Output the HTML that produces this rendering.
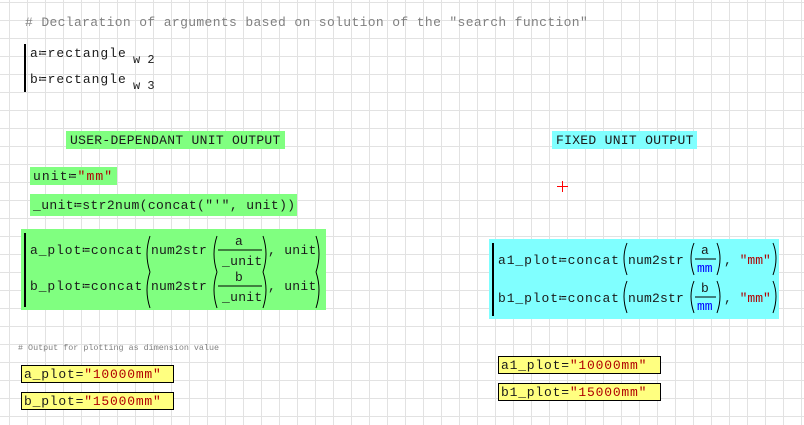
<!DOCTYPE html>
<html><head><meta charset="utf-8"><style>
html,body{margin:0;padding:0}
body{width:804px;height:425px;position:relative;overflow:hidden;background-color:#fff;
background-image:linear-gradient(to right,#e2e2e2 1px,transparent 1px),linear-gradient(to bottom,#e2e2e2 1px,transparent 1px);
background-size:18px 18px;background-position:9px 2px;font-family:"Liberation Mono",monospace;color:#1a1a1a}
.a{position:absolute;white-space:pre;font-size:13px;line-height:13px}
.bx{position:absolute}
.g{background:#80ff80}.c{background:#80ffff}
.y{background:#ffff80;border:1px solid #000;box-sizing:border-box}
.r{color:#b00000}.b{color:#0000ff}
.cm{color:#808080}
.w{letter-spacing:0.9px}
</style></head><body>
<div class="a cm" style="left:25px;top:16px;letter-spacing:0.36px">#&nbsp;Declaration of arguments based on solution of the "search function"</div>

<div class="a" style="left:30px;top:47px;letter-spacing:1px">a≔rectangle</div>
<div class="a" style="left:133px;top:54px;font-size:12px">w 2</div>
<div class="a" style="left:30px;top:73px;letter-spacing:1px">b≔rectangle</div>
<div class="a" style="left:133px;top:80px;font-size:12px">w 3</div>

<div class="bx g" style="left:66px;top:131px;width:219px;height:18px"></div>
<div class="a" style="left:70px;top:134px;letter-spacing:0.3px">USER-DEPENDANT UNIT OUTPUT</div>
<div class="bx c" style="left:552px;top:131px;width:145px;height:18px"></div>
<div class="a" style="left:556px;top:134px;letter-spacing:0.3px">FIXED UNIT OUTPUT</div>

<div class="bx g" style="left:30px;top:167px;width:87px;height:18px"></div>
<div class="a" style="left:33px;top:170px;letter-spacing:1.1px">unit≔<span class="r">"mm"</span></div>
<div class="bx g" style="left:30px;top:194px;width:267px;height:22px"></div>
<div class="a" style="left:33px;top:199px;letter-spacing:0.4px">_unit≔str2num(concat("'", unit))</div>

<div class="bx g" style="left:21px;top:229px;width:305px;height:81px"></div>
<div class="bx c" style="left:489px;top:239px;width:290px;height:80px"></div>

<div class="a w" style="left:30px;top:244px">a_plot≔concat</div>
<div class="a" style="left:151px;top:244px;letter-spacing:0.2px">num2str</div>
<div class="a" style="left:235px;top:235px">a</div>
<div class="a" style="left:222px;top:255px;letter-spacing:0.3px">_unit</div>
<div class="a" style="left:268px;top:244px;letter-spacing:0.3px">, unit</div>
<div class="a w" style="left:30px;top:280px">b_plot≔concat</div>
<div class="a" style="left:151px;top:280px;letter-spacing:0.2px">num2str</div>
<div class="a" style="left:235px;top:271px">b</div>
<div class="a" style="left:222px;top:291px;letter-spacing:0.3px">_unit</div>
<div class="a" style="left:268px;top:280px;letter-spacing:0.3px">, unit</div>

<div class="a w" style="left:498px;top:254px">a1_plot≔concat</div>
<div class="a" style="left:628px;top:254px;letter-spacing:0.2px">num2str</div>
<div class="a" style="left:701px;top:244px">a</div>
<div class="a b" style="left:697px;top:262px">mm</div>
<div class="a" style="left:724px;top:254px">, <span class="r">"mm"</span></div>
<div class="a w" style="left:498px;top:292px">b1_plot≔concat</div>
<div class="a" style="left:628px;top:292px;letter-spacing:0.2px">num2str</div>
<div class="a" style="left:701px;top:282px">b</div>
<div class="a b" style="left:697px;top:300px">mm</div>
<div class="a" style="left:724px;top:292px">, <span class="r">"mm"</span></div>

<div class="a cm" style="left:18px;top:343px;font-size:8.4px;line-height:10px">#&nbsp;Output for plotting as dimension value</div>

<div class="bx y" style="left:21px;top:365px;width:153px;height:18px"></div>
<div class="a" style="left:24px;top:368px;letter-spacing:0.8px">a_plot=<span class="r">"10000mm"</span></div>
<div class="bx y" style="left:21px;top:392px;width:153px;height:18px"></div>
<div class="a" style="left:24px;top:395px;letter-spacing:0.8px">b_plot=<span class="r">"15000mm"</span></div>
<div class="bx y" style="left:498px;top:356px;width:163px;height:18px"></div>
<div class="a" style="left:501px;top:359px;letter-spacing:0.8px">a1_plot=<span class="r">"10000mm"</span></div>
<div class="bx y" style="left:498px;top:383px;width:163px;height:18px"></div>
<div class="a" style="left:501px;top:386px;letter-spacing:0.8px">b1_plot=<span class="r">"15000mm"</span></div>

<svg width="804" height="425" style="position:absolute;left:0;top:0" fill="none" stroke="#000">
<rect x="24" y="44" width="2" height="48" fill="#000" stroke="none"/>
<rect x="24" y="233" width="2" height="74" fill="#000" stroke="none"/>
<rect x="492" y="243" width="2" height="73" fill="#000" stroke="none"/>
<g stroke-width="1">
<path d="M150 236 Q144 254 150 272"/><path d="M316 236 Q322 254 316 272"/>
<path d="M217 236 Q211 254 217 272"/><path d="M263 236 Q269 254 263 272"/>
<line x1="218" y1="250" x2="262" y2="250"/>
<path d="M150 272 Q144 290 150 308"/><path d="M316 272 Q322 290 316 308"/>
<path d="M217 272 Q211 290 217 308"/><path d="M263 272 Q269 290 263 308"/>
<line x1="218" y1="286" x2="262" y2="286"/>
<path d="M627 243 Q621 258 627 275"/><path d="M773 243 Q779 258 773 275"/>
<path d="M694 243 Q688 258 694 275"/><path d="M717 243 Q723 258 717 275"/>
<line x1="695" y1="259" x2="716" y2="259"/>
<path d="M627 281 Q621 296 627 313"/><path d="M773 281 Q779 296 773 313"/>
<path d="M694 281 Q688 296 694 313"/><path d="M717 281 Q723 296 717 313"/>
<line x1="695" y1="297" x2="716" y2="297"/>
</g>
<g stroke="#f00"><line x1="557" y1="186.5" x2="568" y2="186.5"/><line x1="562.5" y1="181" x2="562.5" y2="192"/></g>
</svg>
</body></html>
